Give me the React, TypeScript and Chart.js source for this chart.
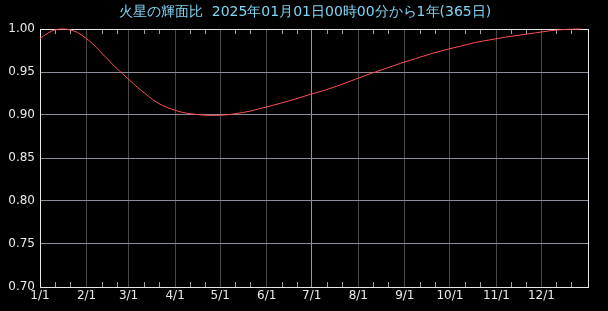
import React, { useEffect, useRef } from "react";
import { Chart, registerables } from "chart.js";

Chart.register(...registerables);

const TITLE = "火星の輝面比  2025年01月01日00時00分から1年(365日)";

// day of year (0 = Jan 1) and illuminated fraction
const days = [
  0, 5, 10, 15, 20, 25, 30, 35, 40, 45, 50, 55, 60, 65, 70, 75, 80, 85, 90, 95,
  100, 105, 110, 115, 120, 125, 130, 140, 150, 160, 170, 180, 190, 200, 210, 220,
  230, 240, 250, 260, 270, 280, 290, 300, 310, 320, 330, 340, 350, 360,
];
const phase = [
  0.989, 0.995, 0.999, 1.0, 0.999, 0.996, 0.99, 0.983, 0.974, 0.965, 0.956,
  0.948, 0.94, 0.932, 0.925, 0.918, 0.9125, 0.9085, 0.9055, 0.903, 0.9015,
  0.9005, 0.8998, 0.8995, 0.8997, 0.9003, 0.9015, 0.9045, 0.909, 0.9135,
  0.9185, 0.924, 0.929, 0.935, 0.9415, 0.948, 0.954, 0.96, 0.9655, 0.971,
  0.9758, 0.98, 0.9843, 0.9875, 0.9905, 0.993, 0.9955, 0.998, 0.9995, 1.0,
];

const monthStarts = [0, 31, 59, 90, 120, 151, 181, 212, 243, 273, 304, 334];
const monthLabels = ["1/1", "2/1", "3/1", "4/1", "5/1", "6/1", "7/1", "8/1", "9/1", "10/1", "11/1", "12/1"];
const yTicks = [0.7, 0.75, 0.8, 0.85, 0.9, 0.95, 1.0];

const FONT = "'DejaVu Sans', sans-serif";

export default function App() {
  const ref = useRef<HTMLCanvasElement | null>(null);

  useEffect(() => {
    if (!ref.current) return;
    const framePlugin = {
      id: "frame",
      beforeDatasetsDraw(chart: any) {
        const { ctx, chartArea: a, scales } = chart;
        const xs = scales.x;
        ctx.save();
        // minor ticks at 11th and 21st of each month
        ctx.strokeStyle = "#a0a0a0";
        ctx.lineWidth = 1;
        monthStarts.forEach((m) => {
          [10, 20].forEach((d) => {
            const px = Math.round(xs.getPixelForValue(m + d)) + 0.5;
            ctx.beginPath();
            ctx.moveTo(px, a.top);
            ctx.lineTo(px, a.top + 5);
            ctx.moveTo(px, a.bottom);
            ctx.lineTo(px, a.bottom - 5);
            ctx.stroke();
          });
        });
        ctx.strokeStyle = "#e8e8e8";
        ctx.strokeRect(Math.round(a.left) + 0.5, Math.round(a.top) + 0.5, Math.round(a.right - a.left), Math.round(a.bottom - a.top));
        ctx.restore();
      },
      afterDraw(chart: any) {
        const { ctx } = chart;
        ctx.save();
        ctx.fillStyle = "#80d4f4";
        ctx.font = `14px ${FONT}`;
        ctx.textAlign = "center";
        ctx.textBaseline = "middle";
        ctx.fillText(TITLE, 305, 12);
        ctx.restore();
      },
    };

    const chart = new Chart(ref.current, {
      type: "line",
      data: {
        datasets: [
          {
            data: days.map((d, i) => ({ x: d, y: phase[i] })),
            borderColor: "#ff5050",
            borderWidth: 1,
            pointRadius: 0,
            cubicInterpolationMode: "monotone",
            fill: false,
            clip: false,
          },
        ],
      },
      options: {
        animation: false,
        responsive: false,
        maintainAspectRatio: false,
        layout: { padding: { top: 29, right: 20, left: 0, bottom: 0 } },
        plugins: { legend: { display: false }, tooltip: { enabled: false }, title: { display: false } },
        scales: {
          x: {
            type: "linear",
            min: 0,
            max: 365,
            afterBuildTicks: (s: any) => {
              s.ticks = monthStarts.map((v) => ({ value: v }));
            },
            afterFit: (s: any) => {
              s.height = 24;
            },
            ticks: {
              color: "#e8e8e8",
              font: { family: FONT, size: 12 },
              padding: 2,
              maxRotation: 0,
              autoSkip: false,
              callback: (v: any) => {
                const i = monthStarts.indexOf(Number(v));
                return i >= 0 ? monthLabels[i] : "";
              },
            },
            grid: {
              color: (c: any) => (c.tick && c.tick.value === 181 ? "#9a90a0" : c.tick && c.tick.value === 0 ? "#e8e8e8" : "#4a4a4a"),
              drawTicks: false,
              lineWidth: 1,
            },
            border: { display: false },
          },
          y: {
            min: 0.7,
            max: 1.0,
            afterBuildTicks: (s: any) => {
              s.ticks = yTicks.map((v) => ({ value: v }));
            },
            afterFit: (s: any) => {
              s.width = 40;
            },
            ticks: {
              color: "#e8e8e8",
              font: { family: FONT, size: 12 },
              padding: 5,
              callback: (v: any) => Number(v).toFixed(2),
            },
            grid: {
              color: "#928a9a",
              drawTicks: false,
              lineWidth: 1,
            },
            border: { display: false },
          },
        },
      },
      plugins: [framePlugin],
    } as any);
    return () => chart.destroy();
  }, []);

  return (
    <div style={{ position: "absolute", left: 0, top: 0, width: 608, height: 311, background: "#000" }}>
      <canvas ref={ref} width={608} height={311} style={{ display: "block", width: 608, height: 311 }} />
    </div>
  );
}
